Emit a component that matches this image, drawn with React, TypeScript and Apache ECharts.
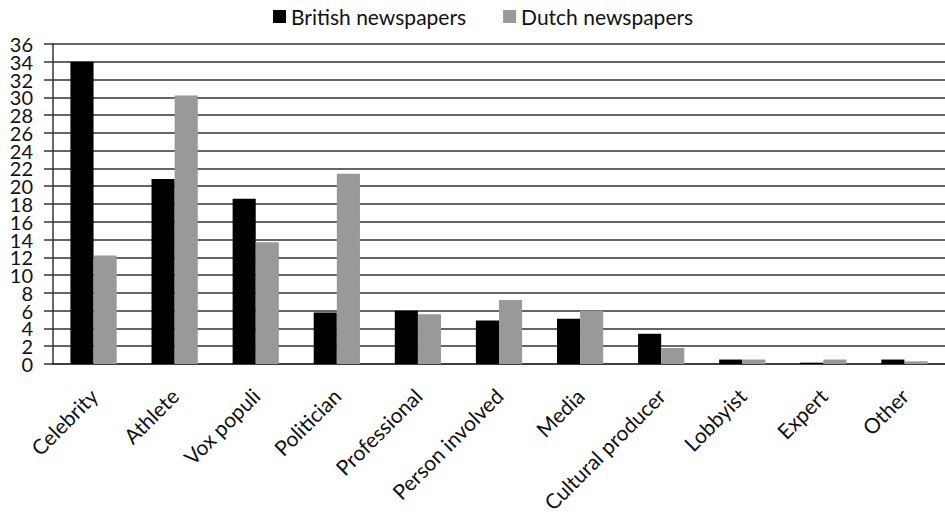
import React, { useEffect, useRef } from "react";
import * as echarts from "echarts";

const categories = [
  "Celebrity",
  "Athlete",
  "Vox populi",
  "Politician",
  "Professional",
  "Person involved",
  "Media",
  "Cultural producer",
  "Lobbyist",
  "Expert",
  "Other",
];
const british = [34.0, 20.8, 18.6, 5.8, 6.0, 4.9, 5.1, 3.4, 0.5, 0.15, 0.5];
const dutch = [12.2, 30.2, 13.7, 21.4, 5.6, 7.2, 6.0, 1.8, 0.5, 0.5, 0.3];
const seriesNames = ["British newspapers", "Dutch newspapers"];
const yTickLabels = [
  "0", "2", "4", "6", "8", "10", "12", "14", "16", "18",
  "20", "22", "24", "26", "28", "30", "32", "34", "36",
];

const FONT = "Lato, 'Open Sans', sans-serif";

export default function App() {
  const ref = useRef<HTMLDivElement>(null);
  useEffect(() => {
    if (!ref.current) return;
    const chart = echarts.init(ref.current, null, { renderer: "svg" });
    chart.setOption({
      animation: false,
      backgroundColor: "#ffffff",
      textStyle: { fontFamily: FONT },
      legend: {
        top: 1,
        left: 268,
        itemWidth: 13,
        itemHeight: 13,
        itemGap: 37,
        icon: "rect",
        textStyle: { fontSize: 21, color: "#111", fontFamily: FONT },
        data: seriesNames,
      },
      grid: { left: 53, right: -6, top: 44, bottom: 155, containLabel: false },
      xAxis: {
        type: "category",
        data: categories,
        axisLine: { lineStyle: { color: "#333", width: 1.5 } },
        axisTick: { show: false },
        axisLabel: {
          rotate: 45,
          interval: 0,
          margin: 28,
          fontSize: 21,
          color: "#111",
          fontFamily: FONT,
        },
      },
      yAxis: [
        {
          type: "value",
          min: 0,
          max: 36,
          interval: 2,
          axisLine: { show: true, lineStyle: { color: "#333", width: 1.5 } },
          axisTick: { show: true, length: 9, lineStyle: { color: "#333", width: 1.5 } },
          splitLine: { lineStyle: { color: "#333", width: 1.5 } },
          axisLabel: { show: false },
        },
        {
          type: "category",
          position: "left",
          data: yTickLabels,
          boundaryGap: false,
          axisLine: { show: false },
          axisTick: { show: false },
          splitLine: { show: false },
          axisLabel: {
            interval: 0,
            margin: 20,
            fontSize: 20,
            color: "#111",
            fontFamily: FONT,
            hideOverlap: false,
          },
        },
      ],
      series: [
        {
          name: seriesNames[0],
          type: "bar",
          data: british,
          barGap: "0%",
          barCategoryGap: "43%",
          itemStyle: { color: "#000000" },
        },
        {
          name: seriesNames[1],
          type: "bar",
          data: dutch,
          barGap: "0%",
          barCategoryGap: "43%",
          itemStyle: { color: "#999999" },
        },
      ],
    });
    return () => chart.dispose();
  }, []);
  return (
    <div
      ref={ref}
      style={{ position: "fixed", left: 0, top: 0, width: 945, height: 519 }}
    />
  );
}
